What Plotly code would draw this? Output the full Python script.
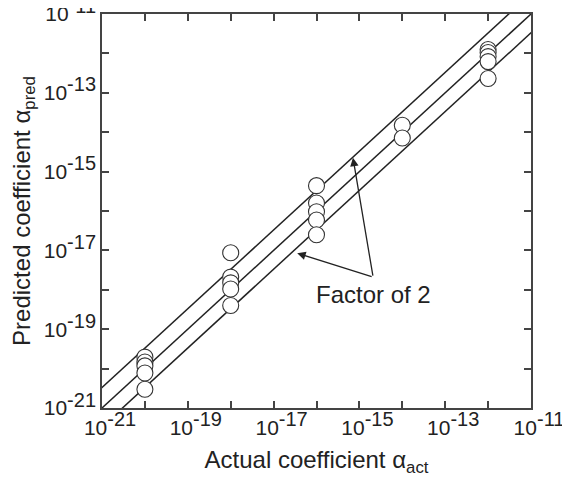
import plotly.graph_objects as go

# ---- data ----
actual = [1e-20] * 5 + [1e-18] * 5 + [1e-16] * 5 + [1e-14] * 2 + [1e-12] * 5
predicted = [1.96e-20, 1.47e-20, 1.17e-20, 7.7e-21, 3.0e-21,
             8.7e-18, 2.1e-18, 1.5e-18, 1.05e-18, 4.0e-19,
             4.4e-16, 1.6e-16, 9.6e-17, 5.9e-17, 2.5e-17,
             1.5e-14, 7.1e-15,
             1.26e-12, 1.05e-12, 8.3e-13, 6.2e-13, 2.3e-13]
line_x = [1e-22, 1e-10]
upper_factor = 3.3
lower_factor = 1 / 3.0
tick_exponents = list(range(-21, -10))
tick_labels = [f"10<sup><span style='font-size:20px'>{e}</span></sup>" if e % 2 != 0 else ""
               for e in tick_exponents]
annotation_text = "Factor of 2"
x_title = "Actual coefficient α<sub>act</sub>"
y_title = "Predicted coefficient α<sub>pred</sub>"

FONT = "Liberation Sans, Arial, sans-serif"
INK = "#222222"

fig = go.Figure()
for f in [1.0, upper_factor, lower_factor]:
    fig.add_trace(go.Scatter(
        x=line_x, y=[v * f for v in line_x], mode="lines",
        line=dict(color=INK, width=1.5), hoverinfo="skip", showlegend=False))

fig.add_trace(go.Scatter(
    x=actual, y=predicted, mode="markers",
    marker=dict(symbol="circle", size=16, color="white",
                line=dict(color="#333333", width=1.1)),
    showlegend=False))

tickvals = [10.0 ** e for e in tick_exponents]
axis_common = dict(
    type="log", tickvals=tickvals, ticktext=tick_labels,
    ticks="inside", ticklen=7, tickwidth=1.5, tickcolor="#444444",
    showline=True, linecolor="#444444", linewidth=1.6, mirror="ticks",
    showgrid=False, zeroline=False, automargin=False,
    ticklabeloverflow="allow",
    tickfont=dict(family=FONT, size=21, color=INK),
)

# page body has an 8px margin, so the figure is 562x472 to fill the 570x480 window
fig.update_layout(
    width=562, height=472,
    margin=dict(l=94, r=39, t=6, b=72),
    paper_bgcolor="white", plot_bgcolor="white",
    font=dict(family=FONT, size=21, color=INK),
    xaxis=dict(range=[-21, -11], ticklabelshift=8,
               title=dict(text=x_title, standoff=13,
                          font=dict(family=FONT, size=24, color=INK)), **axis_common),
    yaxis=dict(range=[-21, -11],
               title=dict(text=y_title, standoff=11,
                          font=dict(family=FONT, size=24, color=INK)), **axis_common),
)

# annotation text and arrows (positions in log10 units)
fig.add_annotation(x=-14.66, y=-18.13, xref="x", yref="y", text=annotation_text,
                   showarrow=False, font=dict(family=FONT, size=24, color=INK),
                   bgcolor="white")
for hx, hy in [(-15.15, -14.65), (-16.45, -17.07)]:
    fig.add_annotation(x=hx, y=hy, ax=-14.68, ay=-17.68, xref="x", yref="y",
                       axref="x", ayref="y", text="", showarrow=True,
                       arrowhead=2, arrowsize=1.3, arrowwidth=1.3, arrowcolor=INK)

fig.write_html("out.html")
